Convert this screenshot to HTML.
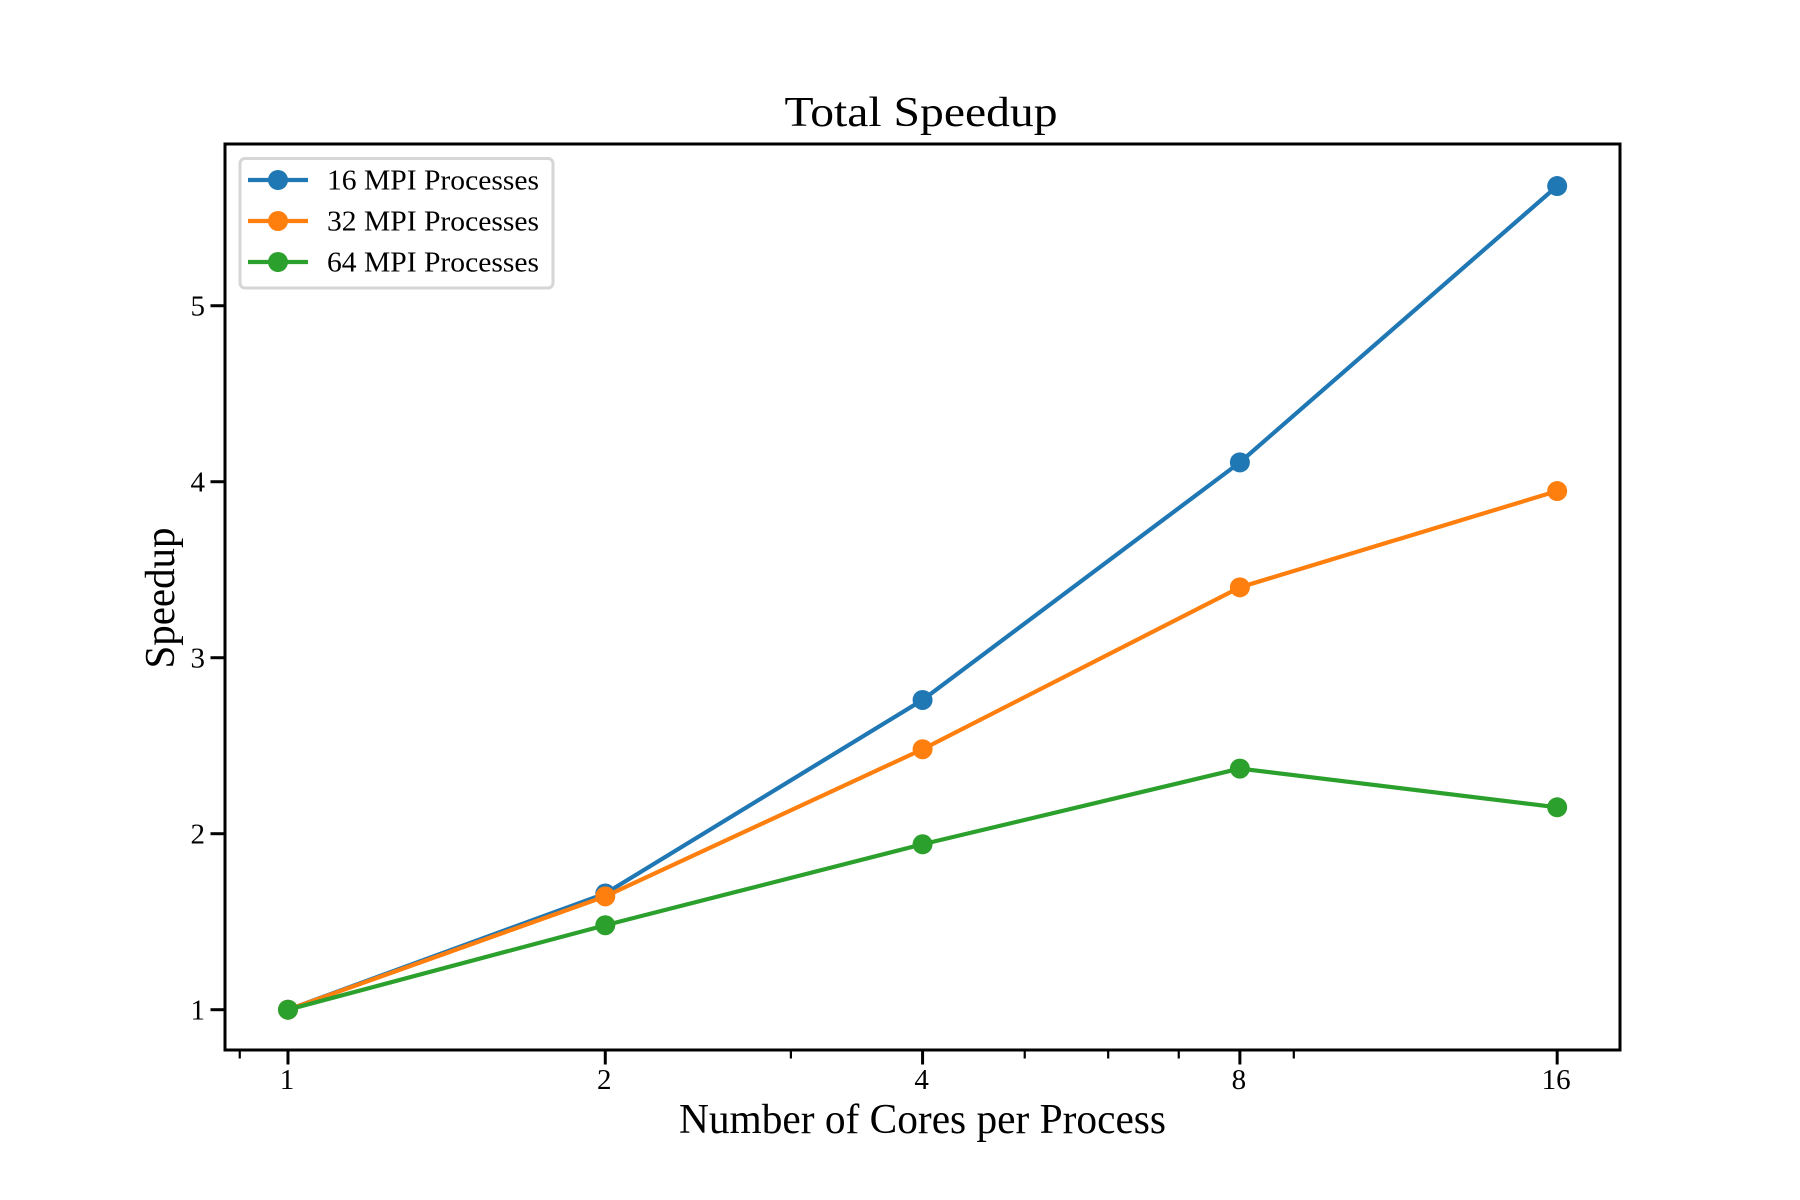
<!DOCTYPE html>
<html>
<head>
<meta charset="utf-8">
<title>Total Speedup</title>
<style>
html,body{margin:0;padding:0;background:#fff;}
svg{display:block;}
text{font-family:"Liberation Serif",serif;fill:#000;}
</style>
</head>
<body>
<svg id="chart" xmlns="http://www.w3.org/2000/svg" width="1800" height="1200" viewBox="0 0 1800 1200">
  <rect x="0" y="0" width="1800" height="1200" fill="#fff"/>
  <g id="series-layer"></g>
  <rect x="225" y="144" width="1395" height="906" fill="none" stroke="#000" stroke-width="3"/>
  <g id="tick-layer"></g>
  <text x="921" y="126" font-size="42" text-anchor="middle" textLength="273" lengthAdjust="spacingAndGlyphs">Total Speedup</text>
  <text x="922.5" y="1133" font-size="42" text-anchor="middle" textLength="487" lengthAdjust="spacingAndGlyphs">Number of Cores per Process</text>
  <text transform="translate(174,598) rotate(-90)" font-size="42" text-anchor="middle" textLength="141" lengthAdjust="spacingAndGlyphs">Speedup</text>
  <g id="legend">
    <rect x="240" y="158.5" width="313" height="129.5" rx="5" ry="5" fill="#fff" fill-opacity="0.8" stroke="#d6d6d6" stroke-width="3"/>
  </g>
</svg>
<script>
var coreCounts = [1, 2, 4, 8, 16];
var speedup16 = [1, 1.66, 2.76, 4.11, 5.68];
var speedup32 = [1, 1.644, 2.48, 3.40, 3.947];
var speedup64 = [1, 1.48, 1.94, 2.37, 2.15];
var seriesLabels = ['16 MPI Processes', '32 MPI Processes', '64 MPI Processes'];
var xTickValues = [1, 2, 4, 8, 16];
var xMinorTickValues = [0.9, 3, 5, 6, 7, 9];
var yTickValues = [1, 2, 3, 4, 5];

var SVG_NS = 'http://www.w3.org/2000/svg';
var plot = {left: 225, right: 1620, top: 144, bottom: 1050};
var xLogDomain = [-0.1985, 4.198];
var yDomain = [0.771, 5.919];
var palette = ['#1f77b4', '#ff7f0e', '#2ca02c'];
var allSeries = [speedup16, speedup32, speedup64];

function xScale(v) {
  var t = (Math.log2(v) - xLogDomain[0]) / (xLogDomain[1] - xLogDomain[0]);
  return plot.left + t * (plot.right - plot.left);
}
function yScale(v) {
  var t = (v - yDomain[0]) / (yDomain[1] - yDomain[0]);
  return plot.bottom - t * (plot.bottom - plot.top);
}
function make(tag, attrs, parent) {
  var el = document.createElementNS(SVG_NS, tag);
  for (var k in attrs) { el.setAttribute(k, attrs[k]); }
  parent.appendChild(el);
  return el;
}

var seriesLayer = document.getElementById('series-layer');
var tickLayer = document.getElementById('tick-layer');
var legend = document.getElementById('legend');

allSeries.forEach(function (values, s) {
  var group = make('g', {}, seriesLayer);
  
  
  var pts = values.map(function (v, i) { return xScale(coreCounts[i]).toFixed(2) + ',' + yScale(v).toFixed(2); }).join(' ');
  var line = make('polyline', {points: pts, fill: 'none', stroke: palette[s], 'stroke-width': 4.2, 'stroke-linejoin': 'round'}, group);
  
  
  values.forEach(function (v, i) {
    var dot = make('circle', {cx: xScale(coreCounts[i]), cy: yScale(v), r: 10, fill: palette[s]}, group);
    
    
  });
});

xTickValues.forEach(function (v) {
  var x = xScale(v);
  var tick = make('line', {x1: x, x2: x, y1: plot.bottom, y2: plot.bottom + 14.5, stroke: '#000', 'stroke-width': 3}, tickLayer);
  
  
  var label = make('text', {x: x - 1, y: 1089, 'font-size': 29, 'text-anchor': 'middle'}, tickLayer);
  
  
  label.textContent = String(v);
});

xMinorTickValues.forEach(function (v) {
  var x = xScale(v);
  var tick = make('line', {x1: x, x2: x, y1: plot.bottom, y2: plot.bottom + 8.5, stroke: '#000', 'stroke-width': 2.2}, tickLayer);
  
  
});

yTickValues.forEach(function (v) {
  var y = yScale(v);
  var tick = make('line', {x1: plot.left - 14.5, x2: plot.left, y1: y, y2: y, stroke: '#000', 'stroke-width': 3}, tickLayer);
  
  
  var label = make('text', {x: 205, y: y + 10, 'font-size': 29, 'text-anchor': 'end'}, tickLayer);
  
  
  label.textContent = String(v);
});

seriesLabels.forEach(function (name, s) {
  var rowY = 180 + s * 41;
  var entry = make('g', {}, legend);
  
  
  var handle = make('line', {x1: 248, x2: 308, y1: rowY, y2: rowY, stroke: palette[s], 'stroke-width': 4.2}, entry);
  
  
  var marker = make('circle', {cx: 278, cy: rowY, r: 10, fill: palette[s]}, entry);
  
  
  var text = make('text', {x: 327, y: rowY + 9.5, 'font-size': 29, textLength: 212, lengthAdjust: 'spacingAndGlyphs'}, entry);
  
  
  text.textContent = name;
});
</script>
</body>
</html>
